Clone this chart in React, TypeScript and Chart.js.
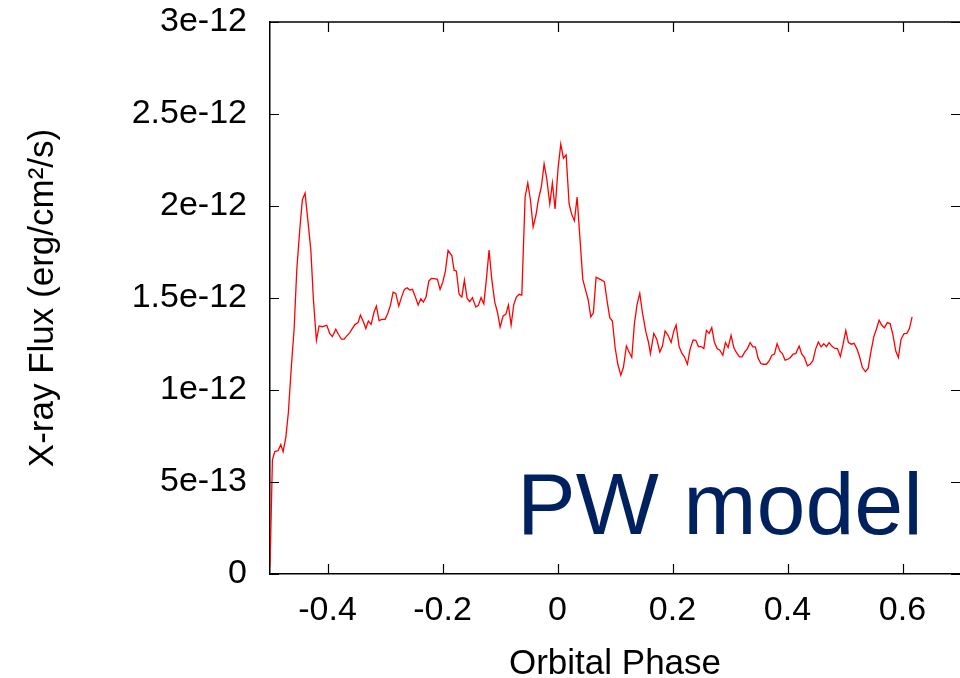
import { useEffect, useRef } from "react";
import { Chart, registerables } from "chart.js";

Chart.register(...registerables);

// Orbital phase of each flux sample
const phase = [
  -0.5, -0.4958, -0.4917, -0.486, -0.4812, -0.4772, -0.4725, -0.468, -0.4628, -0.4581,
  -0.4534, -0.4482, -0.4437, -0.439, -0.4343, -0.429, -0.4245, -0.4193, -0.4146, -0.4089,
  -0.4012, -0.396, -0.3915, -0.3856, -0.381, -0.3758, -0.3711, -0.3664, -0.3612, -0.3567,
  -0.352, -0.3468, -0.3428, -0.3381, -0.3334, -0.3289, -0.3242, -0.319, -0.315, -0.3103,
  -0.3056, -0.2998, -0.2951, -0.2906, -0.2859, -0.2812, -0.2761, -0.2715, -0.2663, -0.2616,
  -0.2569, -0.2523, -0.2477, -0.2424, -0.2377, -0.2332, -0.2285, -0.2238, -0.2193, -0.2146,
  -0.2089, -0.2042, -0.1995, -0.195, -0.1903,
  -0.1838, -0.1798, -0.1758, -0.1711, -0.1664, -0.1619, -0.1572, -0.1525, -0.148, -0.1421,
  -0.1376, -0.1329, -0.1282, -0.1237, -0.119, -0.1143, -0.1091, -0.1045, -0.0998, -0.0946,
  -0.0899, -0.0854, -0.0807, -0.076, -0.0715, -0.0668, -0.0621, -0.0563, -0.0517, -0.0471,
  -0.0424, -0.0377, -0.0332, -0.028, -0.0233, -0.0186, -0.0134, -0.0089, -0.0042, 0.001,
  0.0057, 0.0103, 0.015, 0.0202, 0.0249, 0.0294, 0.0341, 0.0388, 0.044, 0.0485,
  0.0532, 0.0579, 0.0624, 0.0671, 0.0718, 0.077, 0.0816, 0.0863, 0.0909, 0.0955,
  0.1002, 0.1049, 0.1101, 0.1146, 0.1198, 0.1245, 0.1292, 0.1338, 0.1384, 0.1431,
  0.1477, 0.1536, 0.1581,
  0.1616, 0.1675, 0.1727, 0.1779, 0.1825, 0.1871, 0.1923, 0.1976, 0.2023, 0.2063,
  0.2115, 0.2162, 0.2207, 0.2259, 0.2306, 0.2358, 0.2405, 0.2451, 0.2497, 0.2545,
  0.259, 0.2637, 0.2683, 0.273, 0.2777, 0.2823, 0.2875, 0.2921, 0.2967, 0.3019,
  0.3066, 0.3111, 0.3164, 0.3211, 0.3257, 0.3303, 0.335, 0.3397, 0.3442, 0.3489,
  0.3536, 0.3581, 0.3633, 0.368, 0.3727, 0.3773, 0.3819, 0.3866, 0.3911, 0.3958,
  0.4005, 0.4051, 0.4097, 0.4144, 0.4202, 0.4249, 0.4294, 0.4346, 0.4393, 0.444,
  0.4492, 0.4537, 0.4584, 0.4631, 0.4677, 0.4723, 0.477, 0.4816, 0.4868, 0.492,
  0.4967, 0.5014, 0.5059, 0.5111, 0.5158, 0.5205, 0.525, 0.5303, 0.5355, 0.5402,
  0.5449, 0.5501, 0.5546, 0.5593, 0.564, 0.5685, 0.5737, 0.5784, 0.5831, 0.5883,
  0.5928, 0.5975, 0.6028, 0.6075, 0.612, 0.6167,
];

// X-ray flux in units of 1e-12 erg/cm^2/s
const fluxE12 = [
  0.04, 0.62, 0.665, 0.67, 0.703, 0.665, 0.743, 0.879, 1.131, 1.33,
  1.655, 1.872, 2.034, 2.07, 1.926, 1.763, 1.492, 1.27, 1.348, 1.344,
  1.352, 1.306, 1.29, 1.33, 1.303, 1.276, 1.276, 1.294, 1.312, 1.335,
  1.357, 1.366, 1.407, 1.375, 1.334, 1.375, 1.357, 1.424, 1.456, 1.377,
  1.384, 1.384, 1.417, 1.46, 1.532, 1.525, 1.456, 1.502, 1.547, 1.556,
  1.543, 1.547, 1.51, 1.462, 1.496, 1.478, 1.507, 1.592, 1.606, 1.605,
  1.601, 1.547, 1.586, 1.646, 1.758,
  1.731, 1.651, 1.646, 1.52, 1.505, 1.597, 1.498, 1.48, 1.502, 1.451,
  1.46, 1.502, 1.469, 1.601, 1.76, 1.601, 1.478, 1.424, 1.342, 1.402,
  1.411, 1.462, 1.353, 1.465, 1.505, 1.52, 1.516, 2.049, 2.125, 2.034,
  1.886, 1.947, 2.034, 2.106, 2.229, 2.146, 2.011, 2.125, 1.984, 2.206,
  2.336, 2.26, 2.278, 2.011, 1.953, 1.92, 2.049, 1.835, 1.601, 1.547,
  1.492, 1.397, 1.42, 1.613, 1.605, 1.597, 1.588, 1.483, 1.393, 1.375,
  1.231, 1.14, 1.081, 1.122, 1.239, 1.207, 1.177, 1.362, 1.465, 1.525,
  1.42, 1.317, 1.261,
  1.198, 1.307, 1.276, 1.207, 1.239, 1.321, 1.297, 1.258, 1.321, 1.353,
  1.236, 1.2, 1.18, 1.14, 1.222, 1.272, 1.27, 1.236, 1.236, 1.225,
  1.324, 1.308, 1.339, 1.258, 1.225, 1.216, 1.189, 1.258, 1.231, 1.297,
  1.231, 1.204, 1.18, 1.18, 1.207, 1.225, 1.258, 1.234, 1.234, 1.173,
  1.144, 1.14, 1.14, 1.158, 1.189, 1.195, 1.252, 1.212, 1.198, 1.162,
  1.167, 1.177, 1.195, 1.198, 1.239, 1.195, 1.177, 1.131, 1.14, 1.158,
  1.225, 1.261, 1.234, 1.252, 1.236, 1.258, 1.239, 1.227, 1.225, 1.182,
  1.249, 1.324, 1.258, 1.249, 1.254, 1.225, 1.185, 1.122, 1.099, 1.117,
  1.204, 1.29, 1.33, 1.379, 1.352, 1.339, 1.366, 1.361, 1.303, 1.212,
  1.177, 1.276, 1.307, 1.308, 1.334, 1.397,
];

const xTickValues = [-0.4, -0.2, 0, 0.2, 0.4, 0.6];
const xTickLabels = ["-0.4", "-0.2", "0", "0.2", "0.4", "0.6"];
const yTickValues = [0, 0.5e-12, 1e-12, 1.5e-12, 2e-12, 2.5e-12, 3e-12];
const yTickLabels = ["0", "5e-13", "1e-12", "1.5e-12", "2e-12", "2.5e-12", "3e-12"];

const modelLabel = "PW model";
const modelLabelAt = { x: -0.0705, y: 0.216e-12 };

const FONT = '"Liberation Sans", Arial, Helvetica, sans-serif';

// Closed frame with gnuplot-style inward tick marks on all four sides,
// plus the model name written inside the plot area.
const framePlugin = {
  id: "frame",
  afterDraw(chart: any) {
    const { ctx, chartArea, scales } = chart;
    const { left, right, top, bottom } = chartArea;
    const xs = scales.x;
    const ys = scales.y;
    ctx.save();
    ctx.strokeStyle = "#000";
    ctx.lineWidth = 1.5;
    ctx.beginPath();
    ctx.moveTo(left, top);
    ctx.lineTo(right, top);
    ctx.stroke();

    ctx.lineWidth = 1.2;
    ctx.beginPath();
    for (const v of xTickValues) {
      const px = Math.round(xs.getPixelForValue(v)) + 0.5;
      ctx.moveTo(px, bottom);
      ctx.lineTo(px, bottom - 10);
      ctx.moveTo(px, top);
      ctx.lineTo(px, top + 10);
    }
    for (const v of yTickValues) {
      const py = Math.round(ys.getPixelForValue(v)) + 0.5;
      ctx.moveTo(left, py);
      ctx.lineTo(left + 9, py);
      ctx.moveTo(right, py);
      ctx.lineTo(right - 9, py);
    }
    ctx.stroke();

    ctx.fillStyle = "#00215f";
    ctx.font = `88px ${FONT}`;
    ctx.textAlign = "left";
    ctx.textBaseline = "alphabetic";
    ctx.fillText(
      modelLabel,
      xs.getPixelForValue(modelLabelAt.x),
      ys.getPixelForValue(modelLabelAt.y)
    );
    ctx.restore();
  },
};

export default function App() {
  const canvasRef = useRef<HTMLCanvasElement>(null);

  useEffect(() => {
    document.body.style.margin = "0";
    const canvas = canvasRef.current;
    if (!canvas) return;

    const points = phase.map((p, i) => ({ x: p, y: fluxE12[i] * 1e-12 }));

    const chart = new Chart(canvas, {
      type: "line",
      data: {
        datasets: [
          {
            data: points,
            borderColor: "#ff0000",
            borderWidth: 1.3,
            pointRadius: 0,
            tension: 0,
            fill: false,
          },
        ],
      },
      options: {
        responsive: false,
        animation: false,
        layout: { padding: { top: 22, left: 0, right: 0, bottom: 0 } },
        plugins: {
          legend: { display: false },
          tooltip: { enabled: false },
        },
        scales: {
          x: {
            type: "linear",
            min: -0.5,
            max: 0.7,
            afterBuildTicks: (s: any) => {
              s.ticks = xTickValues.map((value) => ({ value }));
            },
            afterFit: (s: any) => {
              s.height = 104;
              s.paddingLeft = 0;
              s.paddingRight = 0;
            },
            grid: { display: false, drawTicks: false },
            border: { display: true, color: "#000", width: 1.5 },
            ticks: {
              autoSkip: false,
              maxRotation: 0,
              padding: 16,
              color: "#000",
              font: { family: FONT, size: 34 },
              callback: (_v: any, i: number) => xTickLabels[i],
            },
            title: {
              display: true,
              text: "Orbital Phase",
              color: "#000",
              font: { family: FONT, size: 35 },
              padding: { top: 0, bottom: -7 },
            },
          },
          y: {
            type: "linear",
            min: 0,
            max: 3e-12,
            afterBuildTicks: (s: any) => {
              s.ticks = yTickValues.map((value) => ({ value }));
            },
            afterFit: (s: any) => {
              s.width = 270;
              s.paddingTop = 0;
              s.paddingBottom = 0;
            },
            grid: { display: false, drawTicks: false },
            border: { display: true, color: "#000", width: 1.5 },
            ticks: {
              autoSkip: false,
              padding: 23,
              color: "#000",
              font: { family: FONT, size: 34 },
              callback: (_v: any, i: number) => yTickLabels[i],
            },
            title: {
              display: true,
              text: "X-ray Flux (erg/cm²/s)",
              color: "#000",
              font: { family: FONT, size: 35 },
              padding: { top: 22, bottom: 0 },
            },
          },
        },
      },
      plugins: [framePlugin],
    });

    return () => chart.destroy();
  }, []);

  return (
    <div style={{ width: 960, height: 678 }}>
      <canvas ref={canvasRef} width={960} height={678} style={{ display: "block" }} />
    </div>
  );
}
